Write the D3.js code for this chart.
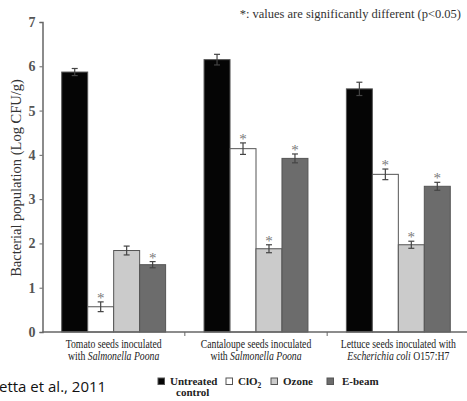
<!DOCTYPE html>
<html>
<head>
<meta charset="utf-8">
<script src="https://cdn.jsdelivr.net/npm/d3@7"></script>
<style>
  body { margin: 0; background: #fff; }
  svg { display: block; }
  text { font-family: "Liberation Serif", "DejaVu Serif", serif; }
</style>
</head>
<body>
<script>
// data
const groups = ["Tomato", "Cantaloupe", "Lettuce"];
const groupLine1 = ["Tomato seeds inoculated", "Cantaloupe seeds inoculated", "Lettuce seeds inoculated with"];
const series = ["Untreated control", "ClO2", "Ozone", "E-beam"];
const means = [
  [5.87, 0.57, 1.84, 1.52],
  [6.15, 4.14, 1.88, 3.92],
  [5.49, 3.56, 1.97, 3.29]
];
const errs = [
  [0.08, 0.11, 0.10, 0.07],
  [0.12, 0.13, 0.09, 0.10],
  [0.15, 0.12, 0.08, 0.09]
];
const signif = [
  [false, true, false, true],
  [false, true, true, true],
  [false, true, true, true]
];
const yTicks = [0, 1, 2, 3, 4, 5, 6, 7];

const width = 467, height = 401;
const svg = d3.select("body").append("svg")
    .attr("width", width)
    .attr("height", height);

// scales
const x0 = d3.scaleBand()
    .domain(groups)
    .range([42.5, 469.5])
    .paddingInner(0)
    .paddingOuter(0);

const x1 = d3.scaleBand()
    .domain(series)
    .range([0, x0.bandwidth()])
    .paddingInner(0)
    .paddingOuter(0.74);

const y = d3.scaleLinear()
    .domain([0, 7])
    .range([332, 22]);

const fill = d3.scaleOrdinal()
    .domain(series)
    .range(["#050505", "#ffffff", "#cbcbcb", "#6c6c6c"]);

// flatten
const rows = [];
groups.forEach((g, gi) => {
  series.forEach((s, si) => {
    rows.push({ group: g, series: s, value: means[gi][si], err: errs[gi][si], sig: signif[gi][si] });
  });
});

// bars
svg.append("g")
   .selectAll("rect")
   .data(rows)
   .enter()
   .append("rect")
   .attr("x", d => x0(d.group) + x1(d.series))
   .attr("y", d => y(d.value))
   .attr("width", x1.bandwidth())
   .attr("height", d => y(0) - y(d.value))
   .attr("fill", d => fill(d.series))
   .attr("stroke", "#555")
   .attr("stroke-width", 1);

// error bars
const eb = svg.append("g")
   .attr("stroke", "#444")
   .attr("stroke-width", 1.2)
   .selectAll("g")
   .data(rows)
   .enter()
   .append("g")
   .attr("transform", d => `translate(${x0(d.group) + x1(d.series) + x1.bandwidth() / 2},0)`);

eb.append("line")
  .attr("y1", d => y(d.value + d.err))
  .attr("y2", d => y(d.value - d.err));
eb.append("line")
  .attr("x1", -3).attr("x2", 3)
  .attr("y1", d => y(d.value + d.err))
  .attr("y2", d => y(d.value + d.err));
eb.append("line")
  .attr("x1", -3).attr("x2", 3)
  .attr("y1", d => y(d.value - d.err))
  .attr("y2", d => y(d.value - d.err));

// asterisks
svg.append("g")
   .selectAll("text")
   .data(rows.filter(d => d.sig))
   .enter()
   .append("text")
   .attr("x", d => x0(d.group) + x1(d.series) + x1.bandwidth() / 2)
   .attr("y", d => y(d.value + d.err) + 1)
   .attr("text-anchor", "middle")
   .style("font-size", "15px")
   .attr("fill", "#7a7a7a")
   .text("*");

// y axis
const yAxis = svg.append("g")
   .attr("transform", "translate(42.5,0)")
   .call(d3.axisLeft(y).tickValues(yTicks).tickSize(3).tickPadding(4).tickFormat(d3.format("d")));
yAxis.select(".domain").attr("stroke", "#666").attr("stroke-width", 1.5);
yAxis.selectAll(".tick line").attr("stroke", "#666");
yAxis.selectAll("text")
     .style("font-family", "Liberation Serif, serif")
     .style("font-size", "14px")
     .style("font-weight", "bold")
     .attr("fill", "#555");

// x axis line and boundary ticks
svg.append("line")
   .attr("x1", 42.5).attr("x2", width)
   .attr("y1", y(0)).attr("y2", y(0))
   .attr("stroke", "#666").attr("stroke-width", 1.5);

svg.append("g")
   .selectAll("line")
   .data(groups.slice(0, 2))
   .enter()
   .append("line")
   .attr("x1", d => x0(d) + x0.bandwidth())
   .attr("x2", d => x0(d) + x0.bandwidth())
   .attr("y1", y(0))
   .attr("y2", y(0) + 4)
   .attr("stroke", "#666");

// category labels (condensed like the printed figure)
const catLabels = svg.append("g")
   .selectAll("text")
   .data(groups)
   .enter()
   .append("text")
   .attr("transform", d => `translate(${x0(d) + x0.bandwidth() / 2},348) scale(0.81,1)`)
   .attr("text-anchor", "middle")
   .style("font-size", "12px")
   .attr("fill", "#222");

catLabels.append("tspan")
   .attr("x", 0)
   .text((d, i) => groupLine1[i]);

catLabels.each(function(d, i) {
  const t = d3.select(this).append("tspan")
      .attr("x", 0)
      .attr("dy", 12.5);
  if (i < 2) {
    t.append("tspan").text("with ");
    t.append("tspan").style("font-style", "italic").text("Salmonella Poona");
  } else {
    t.append("tspan").style("font-style", "italic").text("Escherichia coli");
    t.append("tspan").text(" O157:H7");
  }
});

// y label
svg.append("text")
   .attr("transform", `translate(21,${y(3.5) + 1}) rotate(-90)`)
   .attr("text-anchor", "middle")
   .style("font-size", "14.5px")
   .attr("fill", "#333")
   .text("Bacterial population (Log CFU/g)");

// note at top
svg.append("text")
   .attr("x", 461)
   .attr("y", 18)
   .attr("text-anchor", "end")
   .style("font-size", "12.5px")
   .attr("fill", "#333")
   .text("*: values are significantly different (p<0.05)");

// legend
const legendX = [158, 226, 271, 327];
const legend = svg.append("g")
   .selectAll("g")
   .data(series)
   .enter()
   .append("g")
   .attr("transform", (d, i) => `translate(${legendX[i]},378)`);

legend.append("rect")
   .attr("width", 6.5)
   .attr("height", 6.5)
   .attr("fill", d => fill(d))
   .attr("stroke", "#555");

legend.append("text")
   .attr("x", (d, i) => i === 3 ? 15 : 12)
   .attr("y", 7)
   .style("font-size", "11px")
   .style("font-weight", "bold")
   .attr("fill", "#222")
   .each(function(d, i) {
     const t = d3.select(this);
     if (i === 0) {
       t.append("tspan").text("Untreated");
       t.append("tspan").attr("x", 18).attr("dy", 11).text("control");
     } else if (i === 1) {
       t.append("tspan").text("ClO");
       t.append("tspan").attr("dy", 3).style("font-size", "7.5px").text("2");
     } else {
       t.text(d);
     }
   });

// source note
svg.append("text")
   .attr("x", -1)
   .attr("y", 392)
   .style("font-family", "Open Sans, Noto Sans, sans-serif")
   .style("font-size", "15px")
   .attr("fill", "#111")
   .text("etta et al., 2011");
</script>
</body>
</html>
